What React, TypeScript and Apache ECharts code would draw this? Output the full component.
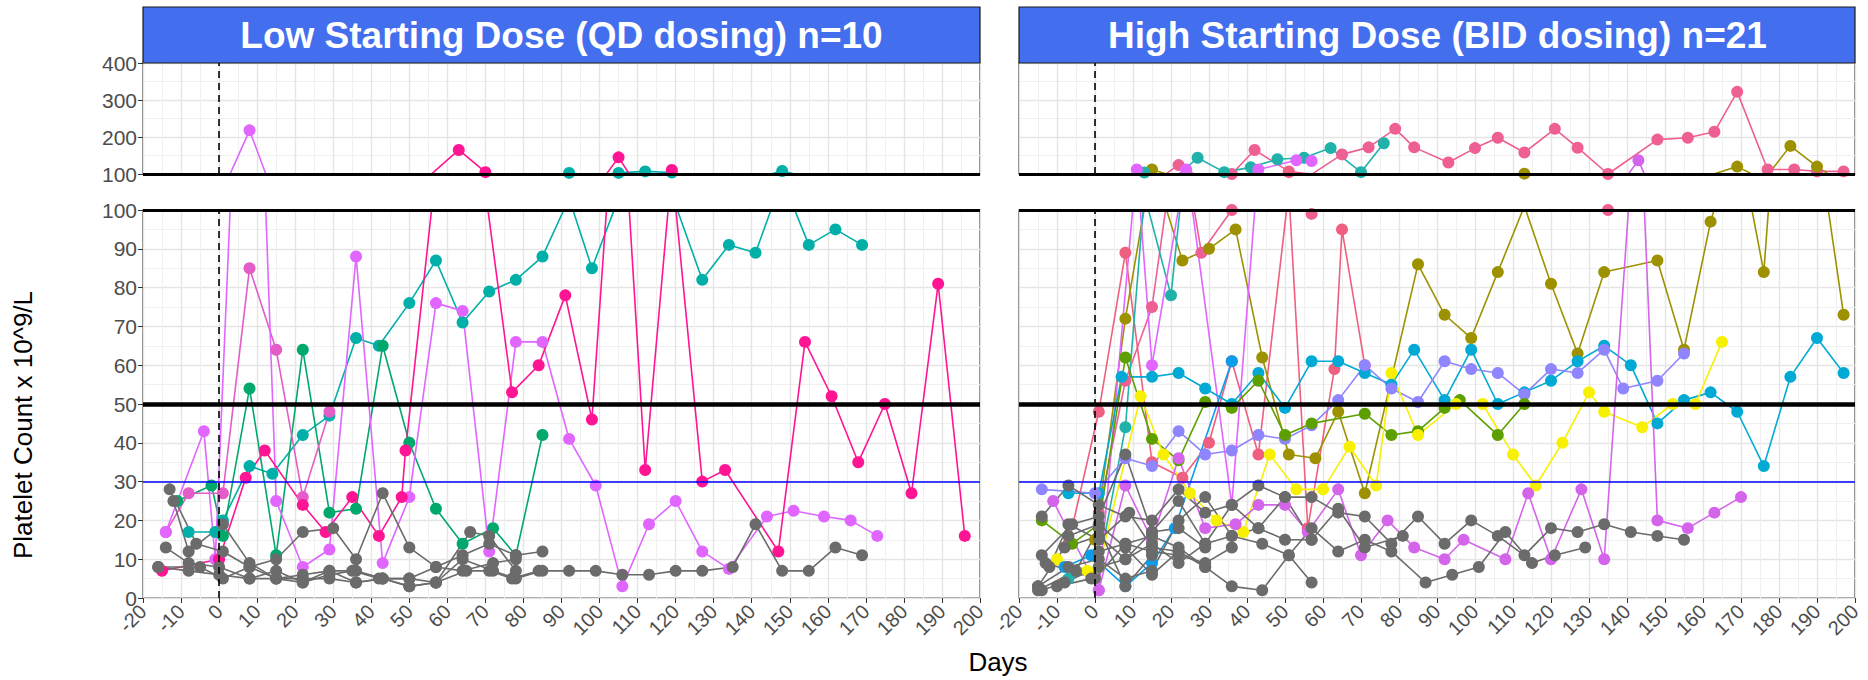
import React, { useEffect, useRef } from "react";
import * as echarts from "echarts";

type Pt = [number, number];

// ---------- axes / reference values ----------
const DAY_MIN = -20;
const DAY_MAX = 200;
const DAY_STEP = 10;
const LOW_Y_MIN = 0;
const LOW_Y_MAX = 100;
const LOW_Y_STEP = 10;
const HIGH_Y_MIN = 100;
const HIGH_Y_MAX = 400;
const HIGH_Y_STEP = 100;
const TARGET_LINE = 50;
const THRESHOLD_LINE = 30;
const BREAK_LINE = 100;
const DOSING_START = 0;

const panelTitles = ["Low Starting Dose (QD dosing) n=10", "High Starting Dose (BID dosing) n=21"];
const yTitle = "Platelet Count x 10^9/L";
const xTitle = "Days";

// ---------- Low starting dose patients ----------
const lowPink: Pt[] = [[-15,7],[0,10],[7,31],[12,38],[22,24],[28,17],[35,26],[42,16],[48,26],[49,38],[63,165],[70,105],[77,53],[84,60],[91,78],[98,46],[105,145],[112,33],[119,111],[127,30],[133,33],[147,12],[154,66],[161,52],[168,35],[175,50],[182,27],[189,81],[196,16]];
const lowViolet: Pt[] = [[-14,17],[-4,43],[-1,10],[8,218],[15,25],[22,8],[29,12.5],[36,88],[43,9],[50,26],[57,76],[64,74],[71,12],[78,66],[85,66],[92,41],[99,29],[106,3],[113,19],[120,25],[127,12],[134,7.5],[144,21],[151,22.5],[159,21],[166,20],[173,16]];
const lowOrchid: Pt[] = [[-14,17],[-8,27],[1,27],[8,85],[15,64],[22,26],[29,48]];
const lowTeal: Pt[] = [[-8,17],[-1,17],[1,20],[8,34],[14,32],[22,42],[29,47],[36,67],[42,65],[50,76],[57,87],[64,71],[71,79],[78,82],[85,88],[92,103],[98,85],[105,103],[112,107],[119,104],[127,82],[134,91],[141,89],[148,108],[155,91],[162,95],[169,91]];
const lowGreen: Pt[] = [[-11,25],[-2,29],[1,16],[8,54],[15,11],[22,64],[29,22],[36,23],[43,65],[50,40],[57,23],[64,14],[72,18],[78,11],[85,42]];
const lowGray1: Pt[] = [[-16,8],[-8,7],[0,6],[8,5],[15,5],[22,6],[29,7],[36,7],[43,5],[50,5],[57,4],[65,7],[71,7],[77,5],[84,7],[92,7],[99,7],[106,6],[113,6],[120,7],[127,7],[135,8],[141,19],[148,7],[155,7],[162,13],[169,11]];
const lowGray2: Pt[] = [[-13,28],[-6,14],[1,12],[8,8],[15,10],[22,17],[30,18],[36,10],[43,27],[50,13],[57,8],[64,11],[71,14],[78,11],[85,12]];
const lowGray3: Pt[] = [[-12,25],[-8,12],[1,19],[8,9],[15,5],[22,5],[29,5],[36,4],[43,5],[50,3],[57,4],[66,17],[71,16],[78,7]];
const lowGray4: Pt[] = [[-14,13],[-8,9],[0,8],[8,5],[15,7],[22,4],[29,6],[35,7],[42,5],[50,5],[57,8],[64,7],[72,9],[78,10]];
const lowGray5: Pt[] = [[-16,8],[-5,8],[1,5],[8,8],[15,5],[22,4],[29,7],[36,4],[43,5],[50,3],[57,4],[64,10],[72,7],[78,5],[85,7]];

// ---------- High starting dose patients ----------
const hiPink1: Pt[] = [[1,22],[8,56],[15,75],[22,124],[28,89],[36,100],[42,165],[51,107],[57,99],[65,153],[72,172],[79,222],[84,172],[93,131],[100,170],[106,198],[113,158],[121,222],[127,171],[135,100],[148,193],[156,198],[163,214],[169,322],[177,112],[184,112],[190,107],[197,107]];
const hiPink2: Pt[] = [[-7,14],[1,48],[8,89],[15,35],[23,31],[30,40],[36,61],[43,37],[51,105],[56,18],[63,59],[65,95],[71,60]];
const hiOlive: Pt[] = [[0,15],[8,72],[15,112],[23,87],[30,90],[37,95],[44,62],[51,37],[58,36],[64,48],[71,27],[85,86],[92,73],[99,67],[106,84],[113,101],[120,81],[127,63],[134,84],[148,87],[155,64],[162,97],[169,120],[176,84],[183,176],[190,120],[197,73]];
const hiCyan: Pt[] = [[-7,27],[1,27],[7,57],[15,57],[22,58],[29,54],[36,50],[43,58],[50,49],[57,61],[64,61],[71,58],[78,55],[84,64],[92,51],[99,64],[106,50],[113,53],[120,56],[127,61],[134,65],[141,60],[148,45],[155,51],[162,53],[169,48],[176,34],[183,57],[190,67],[197,58]];
const hiBlue: Pt[] = [[-8,8],[-1,11],[8,3],[15,9],[21,18],[36,61]];
const hiPeriwinkle: Pt[] = [[-14,28],[0,27],[8,36],[15,34],[22,43],[29,37],[36,38],[43,42],[50,41],[57,44.5],[64,51],[71,60],[78,54],[85,50.5],[92,61],[99,59],[106,58],[113,52.5],[120,59],[127,58],[134,64],[139,54],[148,56],[155,63]];
const hiGreen: Pt[] = [[-14,20],[-6,14],[1,19],[8,62],[15,41],[22,35.5],[29,50.5],[36,49],[43,56],[50,42],[57,45],[71,47.5],[78,42],[85,43],[92,49],[96,51],[106,42],[113,50]];
const hiYellow: Pt[] = [[-10,10],[-2,7],[1,8],[12,52],[18,37],[25,27],[32,20],[39,17],[46,37],[53,28],[60,28],[67,39],[74,29],[78,58],[85,42],[95,50],[102,50],[110,37],[116,29],[123,40],[130,53],[134,48],[144,44],[152,50],[158,50],[165,66]];
const hiTeal: Pt[] = [[-7,5],[1,8],[8,44],[13,104],[20,78],[27,144],[34,105],[41,118],[48,140],[55,144],[62,170],[70,105],[76,183]];
const hiOrchid: Pt[] = [[-11,25],[1,2],[8,29],[15,15],[22,36],[29,18],[37,19],[43,24],[50,24],[56,17],[64,28],[70,11],[77,20],[84,13],[92,10],[97,15],[108,10],[114,27],[120,10],[128,28],[134,10],[143,137],[148,20],[156,18],[163,22],[170,26]];
const hiViolet: Pt[] = [[1,2],[11,112],[15,60],[24,112],[36,24],[43,112],[53,137],[57,135]];
const hiGray1: Pt[] = [[-14,21],[-7,29],[1,24],[8,21],[15,20],[22,28],[29,22],[36,24],[43,29],[50,26],[57,26],[64,22],[71,21],[78,14],[85,21],[92,14],[99,20],[106,16],[113,11],[120,18],[127,17],[134,19],[141,17],[148,16],[155,15]];
const hiGray2: Pt[] = [[-15,3],[-8,13],[1,16],[8,10],[15,14],[22,9],[29,14],[36,16],[44,14],[51,11],[57,18],[64,12],[71,15],[78,12],[87,4],[94,6],[101,8],[108,17],[115,9],[121,11],[129,13]];
const hiGray3: Pt[] = [[-14,11],[-6,19],[1,21],[8,37],[15,17],[22,25],[29,14],[36,24],[43,18],[50,26],[57,15],[64,23],[71,13],[81,16]];
const hiGray4: Pt[] = [[-12,8],[-7,19],[1,15],[9,22],[15,13],[22,12],[29,8],[36,3],[44,2],[51,11],[57,4]];
const hiGray5: Pt[] = [[-15,3],[-7,8],[1,10],[8,5],[15,7],[22,20],[29,26],[36,16],[43,18],[50,15],[57,15]];
const hiGray6: Pt[] = [[-10,3],[-1,5],[1,12],[8,14],[15,16],[22,13],[29,8]];
const hiGray7: Pt[] = [[-14,2],[-8,4],[1,8],[8,10],[15,17],[22,18],[29,13]];
const hiGray8: Pt[] = [[-7,16],[1,19],[8,13],[15,6],[22,12]];
const hiGray9: Pt[] = [[-15,2],[-5,7],[1,18],[8,3],[15,11]];
const hiGray10: Pt[] = [[-13,9],[0,5],[8,14],[15,12],[22,11],[29,9],[36,13]];

// ---------- styling ----------
const FONT = "'Liberation Sans', Arial, Helvetica, sans-serif";
const GRAY = "#6B6B6B";
const STRIP = "#436EEE";

const lowGroup = [
  { data: lowTeal, color: "#00AFA8" },
  { data: lowGreen, color: "#00A86B" },
  { data: lowOrchid, color: "#E35CC8" },
  { data: lowViolet, color: "#E066FF" },
  { data: lowPink, color: "#FF1493" },
  { data: lowGray1, color: GRAY },
  { data: lowGray2, color: GRAY },
  { data: lowGray3, color: GRAY },
  { data: lowGray4, color: GRAY },
  { data: lowGray5, color: GRAY },
];

const highGroup = [
  { data: hiPink1, color: "#EE5F94" },
  { data: hiPink2, color: "#EE5F80" },
  { data: hiOlive, color: "#9E9100" },
  { data: hiTeal, color: "#20B2AA" },
  { data: hiViolet, color: "#E066FF" },
  { data: hiCyan, color: "#00AAD4" },
  { data: hiPeriwinkle, color: "#8F85FF" },
  { data: hiGreen, color: "#5E9F00" },
  { data: hiYellow, color: "#F7F000" },
  { data: hiBlue, color: "#0A9DEB" },
  { data: hiOrchid, color: "#D465EA" },
  { data: hiGray1, color: GRAY },
  { data: hiGray2, color: GRAY },
  { data: hiGray3, color: GRAY },
  { data: hiGray4, color: GRAY },
  { data: hiGray5, color: GRAY },
  { data: hiGray6, color: GRAY },
  { data: hiGray7, color: GRAY },
  { data: hiGray8, color: GRAY },
  { data: hiGray9, color: GRAY },
  { data: hiGray10, color: GRAY },
];

// layout
const LEFT_X = 143;
const RIGHT_X = 1019;
const PANEL_W = 837;
const TOP_Y = 63;
const TOP_H = 111;
const BOT_Y = 210;
const BOT_H = 388;

function xAxis(gridIndex: number, labels: boolean) {
  return {
    type: "value",
    gridIndex,
    min: DAY_MIN,
    max: DAY_MAX,
    interval: DAY_STEP,
    axisLine: { show: false, onZero: false },
    axisTick: { show: labels, length: 5, lineStyle: { color: "#333", width: 1 } },
    axisLabel: {
      show: labels,
      rotate: 45,
      fontSize: 20,
      color: "#4D4D4D",
      fontFamily: FONT,
      margin: 10,
    },
    splitLine: { show: true, lineStyle: { color: "#E5E5E5", width: 1.4 } },
    minorTick: { show: false, splitNumber: 2 },
    minorSplitLine: { show: true, lineStyle: { color: "#F0F0F0", width: 1 } },
  };
}

function yAxis(gridIndex: number, min: number, max: number, step: number, labels: boolean) {
  return {
    type: "value",
    gridIndex,
    min,
    max,
    interval: step,
    axisLine: { show: false, onZero: false },
    axisTick: { show: labels, length: 5, lineStyle: { color: "#333", width: 1 } },
    axisLabel: { show: labels, fontSize: 21, color: "#4D4D4D", fontFamily: FONT, margin: 6 },
    splitLine: { show: true, lineStyle: { color: "#E5E5E5", width: 1.4 } },
    minorTick: { show: false, splitNumber: 2 },
    minorSplitLine: { show: true, lineStyle: { color: "#F0F0F0", width: 1 } },
  };
}

function patientSeries(group: { data: Pt[]; color: string }[], xi: number, yi: number) {
  return group.map((p) => ({
    type: "line",
    xAxisIndex: xi,
    yAxisIndex: yi,
    data: p.data,
    clip: true,
    z: 3,
    symbol: "circle",
    symbolSize: 12,
    showSymbol: true,
    itemStyle: { color: p.color },
    lineStyle: { color: p.color, width: 1.6 },
    emphasis: { disabled: true },
    silent: true,
  }));
}

function refSeries(xi: number, yi: number, bottom: boolean) {
  const lines: any[] = [
    { xAxis: DOSING_START, lineStyle: { color: "#000", width: 1.6, type: [7, 5] } },
    { yAxis: BREAK_LINE, lineStyle: { color: "#000", width: 3, type: "solid" } },
  ];
  if (bottom) {
    lines.push({ yAxis: THRESHOLD_LINE, lineStyle: { color: "#0000FF", width: 1.6, type: "solid" } });
    lines.push({ yAxis: TARGET_LINE, lineStyle: { color: "#000", width: 4.5, type: "solid" } });
  }
  return {
    type: "line",
    xAxisIndex: xi,
    yAxisIndex: yi,
    data: [],
    z: 2,
    silent: true,
    markLine: {
      symbol: ["none", "none"],
      silent: true,
      animation: false,
      label: { show: false },
      emphasis: { disabled: true },
      data: lines,
    },
  };
}

function buildOption() {
  const grids = [
    { left: LEFT_X, top: TOP_Y, width: PANEL_W, height: TOP_H },
    { left: LEFT_X, top: BOT_Y, width: PANEL_W, height: BOT_H },
    { left: RIGHT_X, top: TOP_Y, width: PANEL_W - 1, height: TOP_H },
    { left: RIGHT_X, top: BOT_Y, width: PANEL_W - 1, height: BOT_H },
  ].map((g) => ({ ...g, show: true, borderColor: "#333333", borderWidth: 1.2, backgroundColor: "#fff", containLabel: false }));

  const header = (x: number, title: string) => [
    {
      type: "rect",
      shape: { x, y: 7, width: PANEL_W - (x === RIGHT_X ? 1 : 0), height: 56 },
      style: { fill: STRIP, stroke: "#1A1A1A", lineWidth: 1.2 },
      z: 10,
    },
    {
      type: "text",
      x: x + PANEL_W / 2,
      y: 35,
      style: {
        text: title,
        fill: "#fff",
        font: `bold 37px ${FONT}`,
        textAlign: "center",
        textVerticalAlign: "middle",
      },
      z: 11,
    },
  ];

  return {
    animation: false,
    backgroundColor: "#fff",
    textStyle: { fontFamily: FONT },
    grid: grids,
    xAxis: [xAxis(0, false), xAxis(1, true), xAxis(2, false), xAxis(3, true)],
    yAxis: [
      yAxis(0, HIGH_Y_MIN, HIGH_Y_MAX, HIGH_Y_STEP, true),
      yAxis(1, LOW_Y_MIN, LOW_Y_MAX, LOW_Y_STEP, true),
      yAxis(2, HIGH_Y_MIN, HIGH_Y_MAX, HIGH_Y_STEP, false),
      yAxis(3, LOW_Y_MIN, LOW_Y_MAX, LOW_Y_STEP, false),
    ],
    series: [
      refSeries(0, 0, false),
      refSeries(1, 1, true),
      refSeries(2, 2, false),
      refSeries(3, 3, true),
      ...patientSeries(lowGroup, 0, 0),
      ...patientSeries(lowGroup, 1, 1),
      ...patientSeries(highGroup, 2, 2),
      ...patientSeries(highGroup, 3, 3),
    ],
    graphic: [
      ...header(LEFT_X, panelTitles[0]),
      ...header(RIGHT_X, panelTitles[1]),
      {
        type: "text",
        x: 23,
        y: 425,
        rotation: Math.PI / 2,
        style: {
          text: yTitle,
          fill: "#000",
          font: `26px ${FONT}`,
          textAlign: "center",
          textVerticalAlign: "middle",
        },
      },
      {
        type: "text",
        x: 998,
        y: 662,
        style: {
          text: xTitle,
          fill: "#000",
          font: `26px ${FONT}`,
          textAlign: "center",
          textVerticalAlign: "middle",
        },
      },
    ],
  };
}

export default function App() {
  const ref = useRef<HTMLDivElement>(null);
  useEffect(() => {
    document.body.style.margin = "0";
    const el = ref.current;
    if (!el) return;
    const chart = echarts.init(el, undefined, { renderer: "svg", width: 1868, height: 680 });
    chart.setOption(buildOption() as any);
    return () => chart.dispose();
  }, []);
  return <div ref={ref} style={{ width: 1868, height: 680, position: "absolute", left: 0, top: 0 }} />;
}
